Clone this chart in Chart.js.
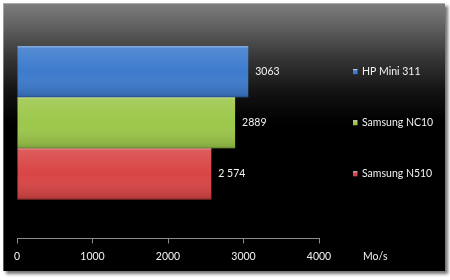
<!DOCTYPE html>
<html>
<head>
<meta charset="utf-8">
<script src="https://cdn.jsdelivr.net/npm/chart.js@4"></script>
<style>
  html, body { margin: 0; padding: 0; background: #fff; width: 450px; height: 280px; overflow: hidden; }
  #panel {
    position: absolute; left: 3px; top: 3px; width: 442px; height: 268px;
    background: linear-gradient(to bottom, #7e7e7e 0px, #5e5e5e 25px, #363636 55px, #121212 90px, #000 120px);
    box-shadow: inset 1px 1px 0 rgba(255,255,255,0.35), 3px 3px 3px rgba(0,0,0,0.55);
  }
  canvas { position: absolute; left: 0; top: 0; }
</style>
</head>
<body>
<div id="panel"><canvas id="chart" width="442" height="268"></canvas></div>
<script>
// data
const categories = ['Débit'];
const seriesNames = ['HP Mini 311', 'Samsung NC10', 'Samsung N510'];
const seriesValues = [3063, 2889, 2574];
const valueLabels = ['3063', '2889', '2 574'];
const xTicks = [0, 1000, 2000, 3000, 4000];
const axisUnit = 'Mo/s';
const seriesColors = ['#3d7bcd', '#9cc74a', '#d94545'];

const FONT = { family: 'Lato, "Open Sans", sans-serif', size: 10.5, lineHeight: 1 };
const TEXT = '#f2f2f2';

// glossy shading on top of the flat bars
const barShine = {
  id: 'barShine',
  afterDatasetsDraw(chart) {
    const ctx = chart.ctx;
    chart.data.datasets.forEach((ds, i) => {
      chart.getDatasetMeta(i).data.forEach(el => {
        const top = el.y - el.height / 2;
        const left = Math.min(el.base, el.x);
        const w = Math.abs(el.x - el.base);
        const g = ctx.createLinearGradient(0, top, 0, top + el.height);
        g.addColorStop(0, 'rgba(255,255,255,0.45)');
        g.addColorStop(0.04, 'rgba(255,255,255,0.12)');
        g.addColorStop(0.5, 'rgba(255,255,255,0.0)');
        g.addColorStop(0.96, 'rgba(0,0,0,0.14)');
        g.addColorStop(1, 'rgba(0,0,0,0.35)');
        ctx.save();
        ctx.fillStyle = g;
        ctx.fillRect(left, top, w, el.height);
        ctx.restore();
      });
    });
  }
};

// value labels, legend and unit label
const annotations = {
  id: 'annotations',
  afterDraw(chart) {
    const ctx = chart.ctx;
    const xs = chart.scales.x;
    ctx.save();
    ctx.font = `${FONT.size}px ${FONT.family}`;
    ctx.fillStyle = TEXT;
    ctx.textBaseline = 'middle';
    ctx.textAlign = 'left';
    chart.data.datasets.forEach((ds, i) => {
      const el = chart.getDatasetMeta(i).data[0];
      ctx.fillStyle = TEXT;
      ctx.fillText(valueLabels[i], el.x + 7, el.y);
      // legend entry
      const lx = xs.right + 34;
      const g = ctx.createLinearGradient(0, el.y - 2.5, 0, el.y + 2.5);
      g.addColorStop(0, '#ffffff');
      g.addColorStop(0.3, seriesColors[i]);
      g.addColorStop(1, seriesColors[i]);
      ctx.fillStyle = g;
      ctx.fillRect(lx, el.y - 2.5, 4.5, 5);
      ctx.fillStyle = TEXT;
      ctx.fillText(seriesNames[i], lx + 9, el.y);
    });
    ctx.fillText(axisUnit, xs.right + 44, xs.top + 18.5);
    ctx.restore();
  }
};

new Chart(document.getElementById('chart'), {
  type: 'bar',
  data: {
    labels: categories,
    datasets: seriesNames.map((name, i) => ({
      label: name,
      data: [seriesValues[i]],
      backgroundColor: seriesColors[i],
      borderWidth: 0,
      barPercentage: 1,
      categoryPercentage: 0.662
    }))
  },
  options: {
    indexAxis: 'y',
    responsive: false,
    animation: false,
    layout: { padding: { left: 14, right: 126, top: 4, bottom: 1 } },
    scales: {
      x: {
        type: 'linear',
        min: xTicks[0],
        max: xTicks[xTicks.length - 1],
        afterBuildTicks(scale) { scale.ticks = xTicks.map(v => ({ value: v })); },
        ticks: { color: TEXT, font: FONT, padding: 8, callback: v => String(v) },
        grid: { display: true, drawOnChartArea: false, tickLength: 5, color: '#8a8a8a' },
        border: { display: true, color: '#8a8a8a' }
      },
      y: { type: 'category', display: false }
    },
    plugins: {
      legend: { display: false },
      tooltip: { enabled: false }
    }
  },
  plugins: [barShine, annotations]
});
</script>
</body>
</html>
